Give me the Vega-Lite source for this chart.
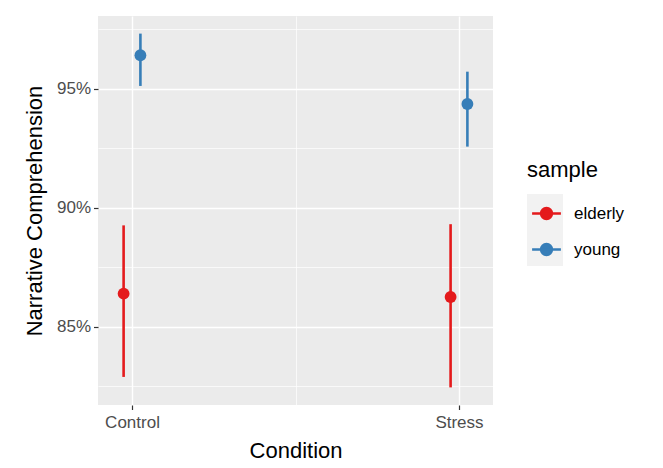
{
  "$schema": "https://vega.github.io/schema/vega-lite/v6.json",
  "autosize": {"type": "none"},
  "padding": {"left": 98, "top": 16, "right": 170, "bottom": 63},
  "width": 395,
  "height": 389,
  "background": "white",
  "config": {
    "font": "Liberation Sans",
    "view": {"fill": "#EBEBEB", "stroke": null},
    "axis": {
      "domain": false,
      "gridColor": "white",
      "tickColor": "#333333",
      "tickSize": 4.5,
      "tickWidth": 1.2,
      "labelFont": "Liberation Sans",
      "labelFontSize": 17,
      "labelColor": "#4D4D4D",
      "titleFont": "Liberation Sans",
      "titleFontSize": 22,
      "titleFontWeight": "normal",
      "titleColor": "#000000"
    },
    "legend": {
      "titleFont": "Liberation Sans",
      "titleFontSize": 22,
      "titleFontWeight": "normal",
      "titleColor": "#000000",
      "labelFont": "Liberation Sans",
      "labelFontSize": 17,
      "labelColor": "#000000"
    }
  },
  "data": {
    "values": [
      {"Condition": "Control", "sample": "elderly", "mean": 86.39, "lo": 82.89, "hi": 89.26},
      {"Condition": "Control", "sample": "young", "mean": 96.41, "lo": 95.12, "hi": 97.32},
      {"Condition": "Stress", "sample": "elderly", "mean": 86.25, "lo": 82.45, "hi": 89.31},
      {"Condition": "Stress", "sample": "young", "mean": 94.36, "lo": 92.57, "hi": 95.72}
    ]
  },
  "encoding": {
    "x": {
      "field": "Condition",
      "type": "nominal",
      "scale": {"type": "point", "domain": ["Control", " ", "Stress"], "padding": 0.208},
      "axis": {
        "title": "Condition",
        "labelAngle": 0,
        "labelPadding": 5,
        "titlePadding": 10,
        "grid": true,
        "gridWidth": {"condition": {"test": "datum.value === ' '", "value": 0.7}, "value": 1.4},
        "tickOpacity": {"condition": {"test": "datum.value === ' '", "value": 0}, "value": 1}
      }
    },
    "xOffset": {
      "field": "sample",
      "type": "nominal",
      "scale": {"type": "point", "range": [-8.4, 8.4], "padding": 0}
    },
    "color": {
      "field": "sample",
      "type": "nominal",
      "scale": {"domain": ["elderly", "young"], "range": ["#E41A1C", "#377EB8"]},
      "legend": {
        "title": "sample",
        "orient": "none",
        "legendX": 429,
        "legendY": 144,
        "zindex": 2,
        "padding": 0,
        "titlePadding": 12,
        "rowPadding": 5,
        "labelOffset": 8,
        "symbolType": "M-0.8,0H0.8M0.3,0A0.3,0.3,0,1,1,-0.3,0A0.3,0.3,0,1,1,0.3,0Z",
        "symbolSize": 1296,
        "symbolStrokeWidth": 2.6,
        "encode": {
          "symbols": {
            "update": {
              "stroke": {"scale": "color", "field": "value"},
              "fill": {"scale": "color", "field": "value"},
              "opacity": {"value": 1}
            }
          }
        }
      }
    },
    "opacity": {
      "field": "sample",
      "type": "nominal",
      "scale": {"domain": ["young", "elderly"], "range": [1, 1]},
      "legend": {
        "title": null,
        "orient": "none",
        "legendX": 429,
        "legendY": 178,
        "zindex": 1,
        "padding": 0,
        "rowPadding": 0,
        "labelExpr": "''",
        "symbolType": "square",
        "symbolSize": 1296,
        "symbolStrokeWidth": 0,
        "encode": {
          "symbols": {
            "update": {
              "fill": {"value": "#F2F2F2"},
              "stroke": {"value": "transparent"},
              "opacity": {"value": 1}
            }
          }
        }
      }
    }
  },
  "layer": [
    {
      "mark": {"type": "rule", "strokeWidth": 2.6},
      "encoding": {
        "y": {
          "field": "lo",
          "type": "quantitative",
          "scale": {"domain": [81.71, 98.06], "nice": false, "zero": false},
          "axis": {
            "title": "Narrative Comprehension",
            "values": [82.5, 85, 87.5, 90, 92.5, 95, 97.5],
            "labelExpr": "datum.value % 5 === 0 ? datum.value + '%' : ''",
            "labelPadding": 3,
            "titlePadding": 10,
            "grid": true,
            "gridWidth": {"condition": {"test": "datum.value % 5 === 0", "value": 1.4}, "value": 0.7},
            "tickOpacity": {"condition": {"test": "datum.value % 5 === 0", "value": 1}, "value": 0}
          }
        },
        "y2": {"field": "hi"}
      }
    },
    {
      "mark": {"type": "point", "filled": true, "size": 140},
      "encoding": {
        "y": {"field": "mean", "type": "quantitative"}
      }
    }
  ]
}
